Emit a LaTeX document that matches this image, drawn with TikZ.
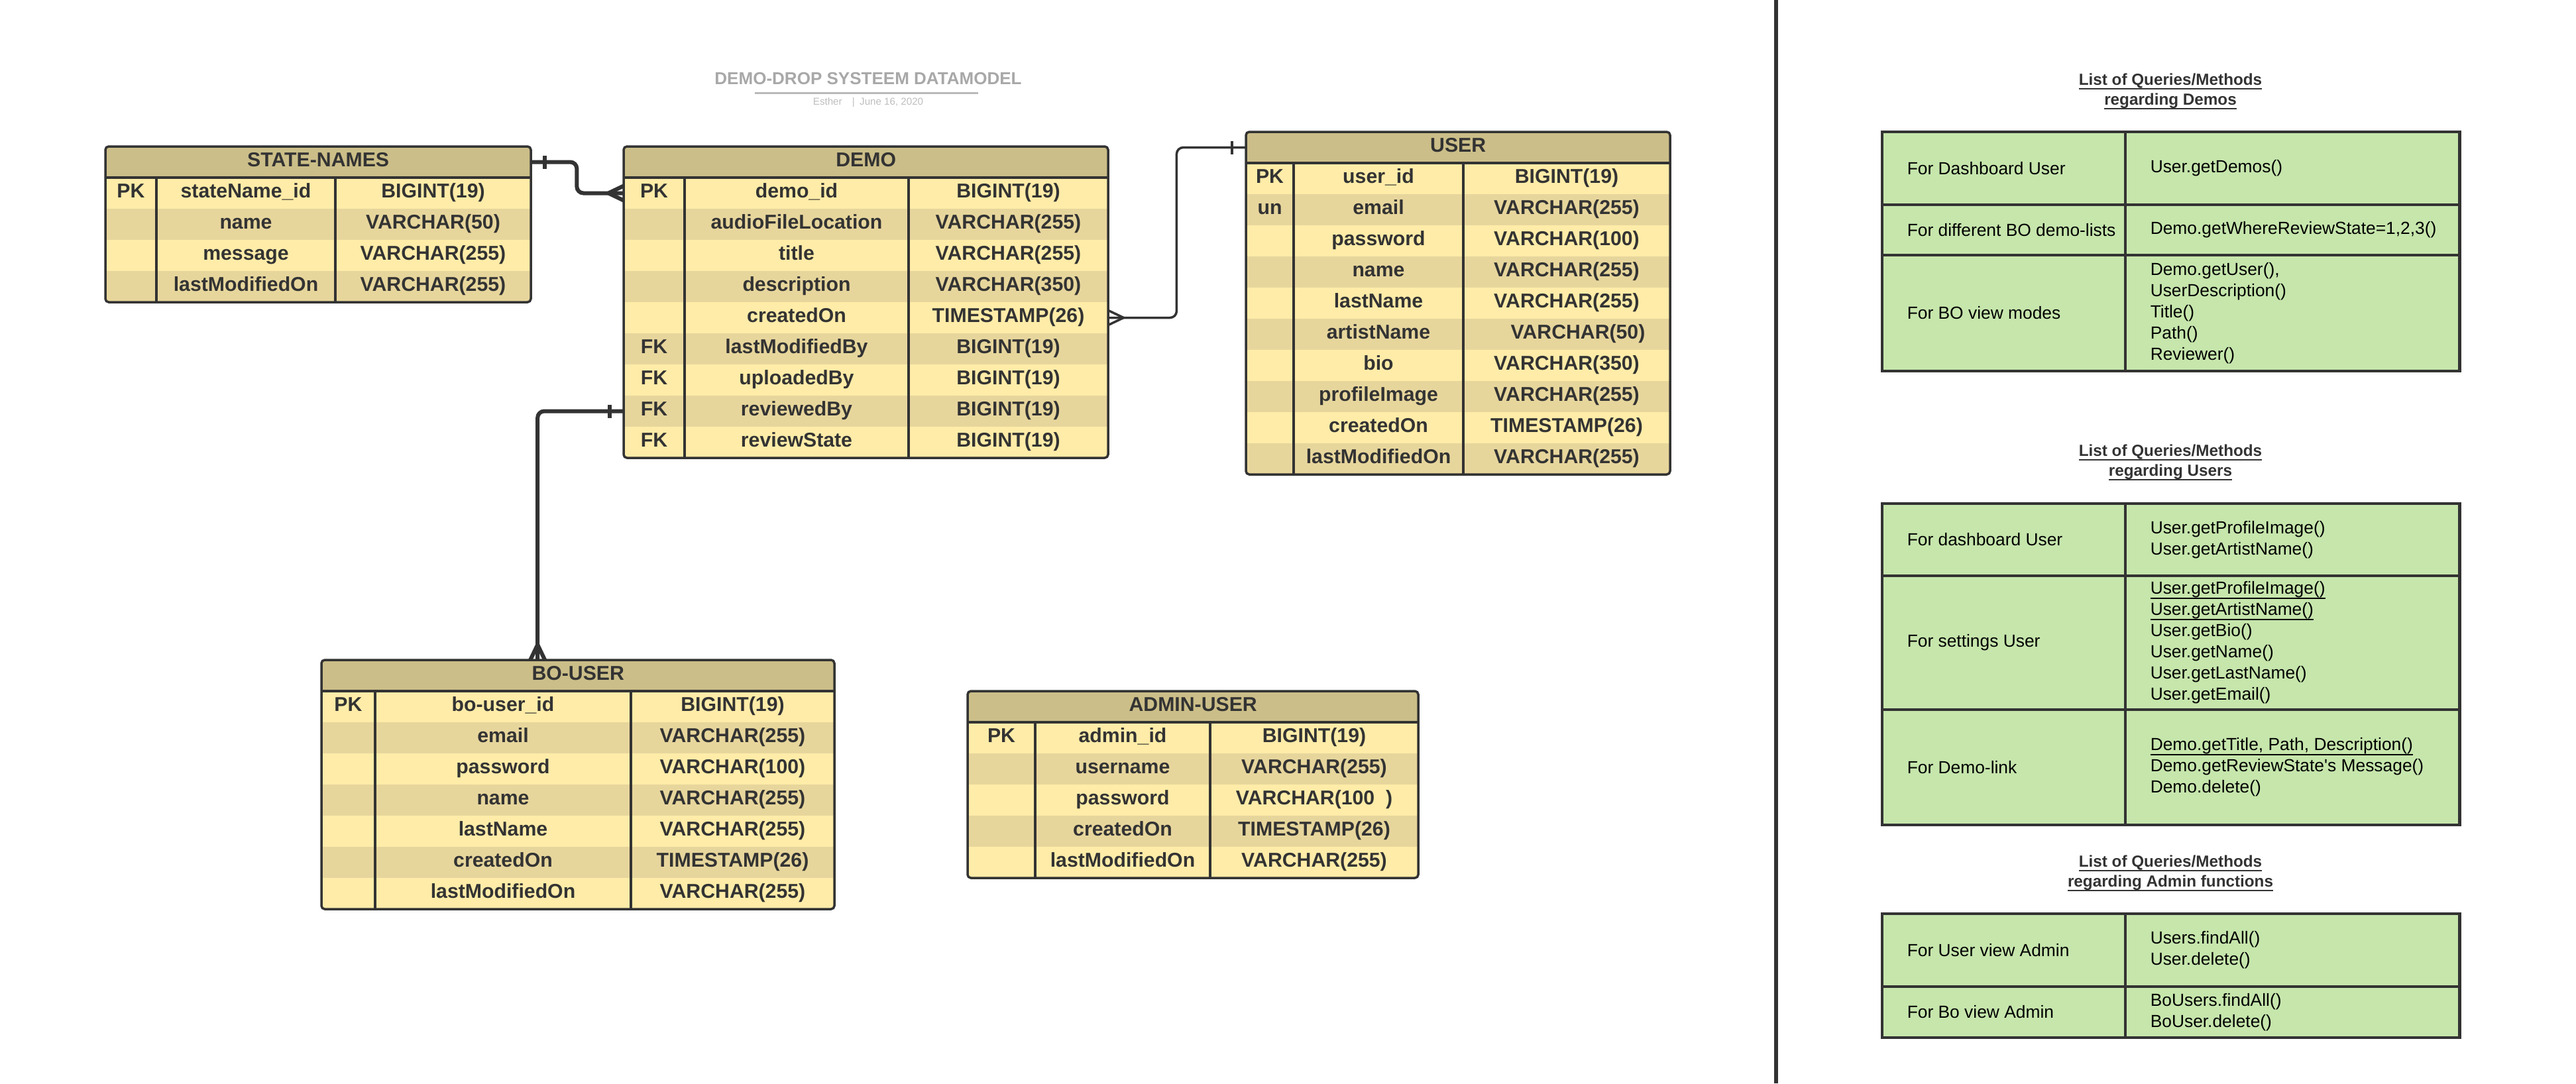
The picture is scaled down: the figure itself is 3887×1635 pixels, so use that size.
\documentclass[tikz,border=0pt]{standalone}
\usepackage{fontspec}
\setmainfont{Liberation Sans}
\usetikzlibrary{positioning}

\definecolor{inkgray}{HTML}{333333}
\definecolor{hdrtan}{HTML}{CBBE88}
\definecolor{rowlight}{HTML}{FFECA8}
\definecolor{rowdark}{HTML}{E7D69C}
\definecolor{qgreen}{HTML}{C6E6AC}
\definecolor{titlegray}{HTML}{A8A8A8}

\newcommand{\erfont}{\bfseries\fontsize{8.6}{10}\selectfont}
\newcommand{\qfont}{\fontsize{7.5}{9.1}\selectfont}
\newcommand{\qtitlefont}{\bfseries\fontsize{6.9}{8.5}\selectfont}
\newsavebox{\ulbox}
\newcommand{\uln}[1]{\sbox{\ulbox}{#1}\rlap{\rule[-1.9pt]{\wd\ulbox}{0.55pt}}\usebox{\ulbox}}

\tikzset{
  tline/.style={draw=inkgray, line width=0.035cm},
  hdr/.style={fill=hdrtan, minimum height=0.47cm, inner sep=0, outer sep=0, anchor=north west,
    font=\erfont, text=inkgray, text height=0.2cm, text depth=0.07cm},
  cell/.style={font=\erfont, text=inkgray, inner sep=0, text height=0.2cm, text depth=0.07cm},
  rel/.style={color=inkgray, line width=0.06cm, rounded corners=0.1cm},
  relthin/.style={rel, line width=0.035cm},
  qcell/.style={draw=inkgray, line width=0.045cm, fill=qgreen, anchor=north west, inner sep=0, outer sep=0},
  qtext/.style={anchor=west, align=left, font=\qfont, inner sep=0},
  qtitle/.style={align=center, font=\qtitlefont, text=inkgray},
  many/.pic={\draw (-23,0) -- (0,11) (-23,0) -- (0,-11);},
  one/.pic={\draw (-21,-10) -- (-21,10);}
}

% name, left, top, divider 1, divider 2, right, rows, title, key/field/type
\newcommand{\ertable}[9]{%
  \pgfmathsetmacro\tbot{#3+47*(#7+1)}
  \pgfmathsetmacro\twd{(#6-#2)/100}
  \begin{scope}
    \clip[rounded corners=0.05cm] (#2,#3) rectangle (#6,\tbot);
    \node[hdr, minimum width=\twd cm] (#1-h) at (#2,#3) {#8};
    \foreach \key/\fld/\typ [count=\i] in {#9} {
      \pgfmathsetmacro\yc{#3+47*\i+23.5}
      \ifodd\i \def\rowc{rowlight}\else \def\rowc{rowdark}\fi
      \node[fill=\rowc, minimum width=\twd cm, minimum height=0.47cm, inner sep=0, outer sep=0, anchor=west] (#1-r\i) at (#2,\yc) {};
      \node[cell] (#1-k\i) at ({(#2+#4)/2},\yc) {\key};
      \node[cell] (#1-f\i) at ({(#4+#5)/2},\yc) {\fld};
      \node[cell] (#1-t\i) at ({(#5+#6)/2},\yc) {\typ};
    }
  \end{scope}
  \draw[tline] (#1-h.south west) -- (#1-h.south east);
  \draw[tline] (#4,#3+47) -- (#4,\tbot);
  \draw[tline] (#5,#3+47) -- (#5,\tbot);
  \draw[tline, rounded corners=0.05cm] (#2,#3) rectangle (#6,\tbot);
}

% name, top, height, left text, right text
\newcommand{\qrow}[5]{%
  \node[qcell, minimum width=3.67cm, minimum height=#3] (#1-a) at (2840,#2) {};
  \node[qcell, minimum width=5.04cm, minimum height=#3] (#1-b) at (3207,#2) {};
  \node[qtext] (#1-at) at ([xshift=0.37cm]#1-a.west) {#4};
  \node[qtext] (#1-bt) at ([xshift=0.37cm]#1-b.west) {#5};
}

\begin{document}
\begin{tikzpicture}[x=0.01cm, y=-0.01cm]
  \path[use as bounding box, fill=white] (0,0) rectangle (3887,1635);

  \node[font=\bfseries\fontsize{7.4}{9}\selectfont, text=titlegray] (title) at (1310,119) {DEMO-DROP SYSTEEM DATAMODEL};
  \draw[titlegray!80, line width=0.03cm] (1139,140) -- (1476,140);
  \node[font=\fontsize{4.3}{5}\selectfont, text=titlegray!75] (byline) at (1310,155) {Esther\quad|\enspace June 16, 2020};

  \ertable{statenames}{159}{221}{236}{506}{801}{4}{STATE-NAMES}{
    PK/stateName\_id/BIGINT(19), /name/VARCHAR(50), /message/VARCHAR(255), /lastModifiedOn/VARCHAR(255)}
  \ertable{demo}{941}{221}{1033}{1371}{1672}{9}{DEMO}{
    PK/demo\_id/BIGINT(19), /audioFileLocation/VARCHAR(255), /title/VARCHAR(255),
    /description/VARCHAR(350), /createdOn/TIMESTAMP(26), FK/lastModifiedBy/BIGINT(19),
    FK/uploadedBy/BIGINT(19), FK/reviewedBy/BIGINT(19), FK/reviewState/BIGINT(19)}
  \ertable{user}{1880}{199}{1952}{2208}{2520}{10}{USER}{
    PK/user\_id/BIGINT(19), un/email/VARCHAR(255), /password/VARCHAR(100), /name/VARCHAR(255),
    /lastName/VARCHAR(255), /artistName/\hspace{0.34cm}VARCHAR(50), /bio/VARCHAR(350),
    /profileImage/VARCHAR(255), /createdOn/TIMESTAMP(26), /lastModifiedOn/VARCHAR(255)}
  \ertable{bouser}{485}{996}{566}{952}{1259}{7}{BO-USER}{
    PK/bo-user\_id/BIGINT(19), /email/VARCHAR(255), /password/VARCHAR(100), /name/VARCHAR(255),
    /lastName/VARCHAR(255), /createdOn/TIMESTAMP(26), /lastModifiedOn/VARCHAR(255)}
  \ertable{admin}{1460}{1043}{1562}{1826}{2140}{5}{ADMIN-USER}{
    PK/admin\_id/BIGINT(19), /username/VARCHAR(255), /password/VARCHAR(100\ \ ),
    /createdOn/TIMESTAMP(26), /lastModifiedOn/VARCHAR(255)}

  \draw[rel] (statenames-h.east) -- ++(69,0) |- (demo-r1.west);
  \pic[rel, rotate=180] at (statenames-h.east) {one};
  \pic[rel] at (demo-r1.west) {many};

  \draw[relthin] (demo-r5.east) -- ++(103,0) |- (user-h.west);
  \pic[relthin, rotate=180] at (demo-r5.east) {many};
  \pic[relthin] at (user-h.west) {one};

  \draw[rel] (demo-r8.west) -| ([xshift=-0.61cm]bouser-h.north);
  \pic[rel] at (demo-r8.west) {one};
  \pic[rel, rotate=-90] at ([xshift=-0.61cm]bouser-h.north) {many};

  \draw[inkgray, line width=0.06cm] (2680,0) -- (2680,1635);

  \node[qtitle] (demoq) at (3275,138) {\uln{List of Queries/Methods}\\\uln{regarding Demos}};
  \qrow{dash}{199}{1.10cm}{For Dashboard User}{User.getDemos()}
  \qrow{lists}{309}{0.76cm}{For different BO demo-lists}{Demo.getWhereReviewState=1,2,3()}
  \qrow{modes}{385}{1.75cm}{For BO view modes}{Demo.getUser(),\\UserDescription()\\Title()\\Path()\\Reviewer()}

  \node[qtitle] (userq) at (3275,698) {\uln{List of Queries/Methods}\\\uln{regarding Users}};
  \qrow{udash}{760}{1.09cm}{For dashboard User}{User.getProfileImage()\\User.getArtistName()}
  \qrow{uset}{869}{2.02cm}{For settings User}{\uln{User.getProfileImage()}\\\uln{User.getArtistName()}\\User.getBio()\\User.getName()\\User.getLastName()\\User.getEmail()}
  \qrow{ulink}{1071}{1.74cm}{For Demo-link}{\uln{Demo.getTitle, Path, Description()}\\Demo.getReviewState\textquotesingle s Message()\\Demo.delete()}

  \node[qtitle] (adminq) at (3275,1318) {\uln{List of Queries/Methods}\\\uln{regarding Admin functions}};
  \qrow{auser}{1379}{1.10cm}{For User view Admin}{Users.findAll()\\User.delete()}
  \qrow{abo}{1489}{0.77cm}{For Bo view Admin}{BoUsers.findAll()\\BoUser.delete()}
\end{tikzpicture}
\end{document}
